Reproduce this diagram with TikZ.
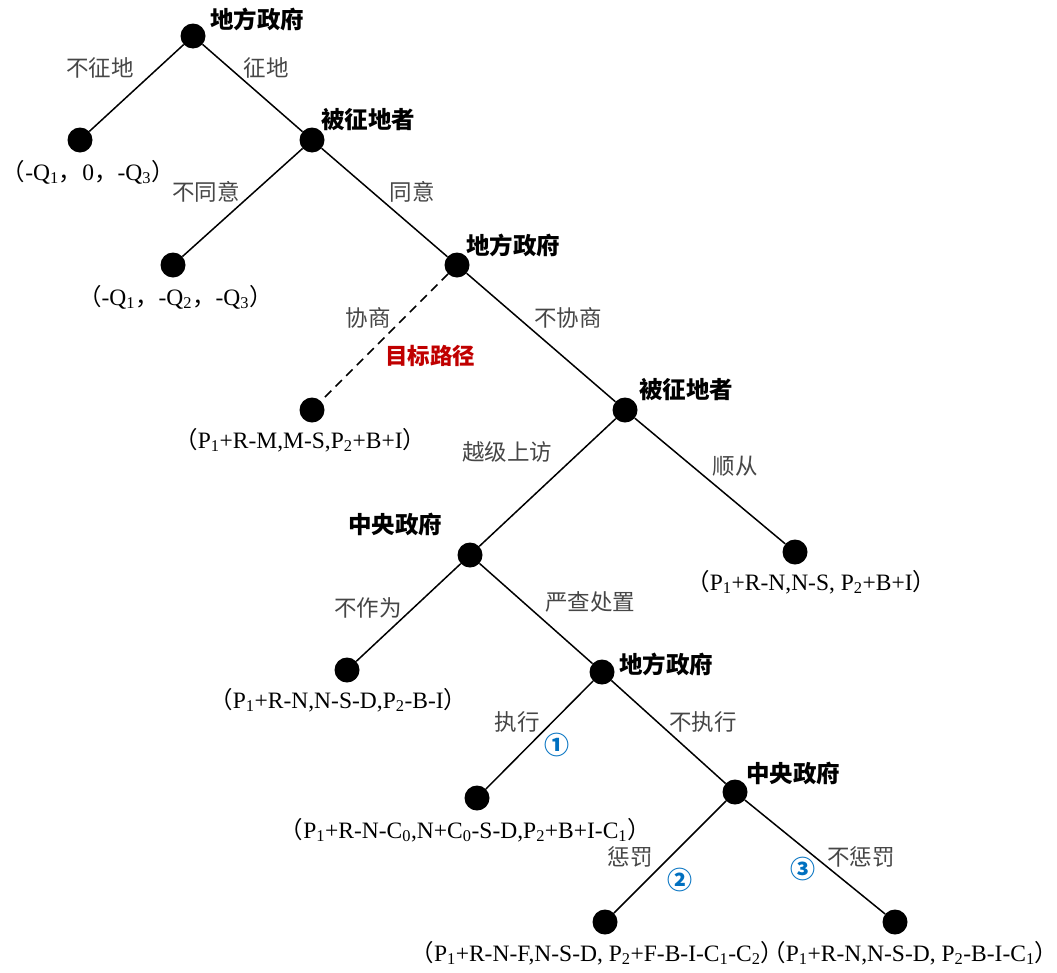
\documentclass[tikz,border=0pt]{standalone}
\usepackage{fontspec}
\setmainfont{Liberation Serif}
\newfontfamily\cjk{Noto Sans CJK SC}
\usetikzlibrary{calc}

\definecolor{edgegray}{RGB}{70,70,70}
\definecolor{pathred}{RGB}{192,0,0}
\definecolor{stepblue}{RGB}{0,112,192}

\newcommand{\lpar}{{\cjk （}}
\newcommand{\rpar}{{\cjk\makebox[0.55em][l]{）}}}
\newcommand{\sub}[1]{\textsubscript{#1}}

\begin{document}
\begin{tikzpicture}[x=1pt, y=-1pt,
	dot/.style={circle, fill=black, inner sep=0pt, minimum size=25pt},
	player/.style={font=\cjk\fontsize{23.5}{26}\selectfont\bfseries},
	choice/.style={font=\cjk\fontsize{22.5}{26}\selectfont, text=edgegray},
	payoff/.style={font=\fontsize{23.5}{26}\selectfont, inner sep=0.5pt},
	stepmark/.style={font=\cjk\fontsize{25}{26}\selectfont\bfseries, text=stepblue},
	branch/.style={line width=1.5pt}]

	\useasboundingbox (0,0) rectangle (1057,972);

	% ---- decision nodes

	\node[dot] (A) at (193,36) {};
	\node[dot] (B) at (312,140) {};
	\node[dot] (C) at (457,265) {};
	\node[dot] (D) at (625,410) {};
	\node[dot] (E) at (470,555) {};
	\node[dot] (F) at (602,672) {};
	\node[dot] (G) at (735,792) {};

	% ---- end nodes

	\node[dot] (L1) at (80,140) {};
	\node[dot] (L2) at (173,265) {};
	\node[dot] (L3) at (312,410) {};
	\node[dot] (L4) at (795,552) {};
	\node[dot] (L5) at (347,670) {};
	\node[dot] (L6) at (477,798) {};
	\node[dot] (L7) at (605,922) {};
	\node[dot] (L8) at (895,922) {};

	% ---- branches

	\draw[branch] (A) -- (L1);
	\draw[branch] (A) -- (B);
	\draw[branch] (B) -- (L2);
	\draw[branch] (B) -- (C);
	\draw[branch, dashed, dash pattern=on 9pt off 6pt] (C) -- (L3);
	\draw[branch] (C) -- (D);
	\draw[branch] (D) -- (E);
	\draw[branch] (D) -- (L4);
	\draw[branch] (E) -- (L5);
	\draw[branch] (E) -- (F);
	\draw[branch] (F) -- (L6);
	\draw[branch] (F) -- (G);
	\draw[branch] (G) -- (L7);
	\draw[branch] (G) -- (L8);

	% ---- players

	\node[player] (pA) at (257,19) {地方政府};
	\node[player] (pB) at (368,120) {被征地者};
	\node[player] (pC) at (513,245) {地方政府};
	\node[player] (pD) at (686,390) {被征地者};
	\node[player] (pE) at (395,525) {中央政府};
	\node[player] (pF) at (666,664) {地方政府};
	\node[player] (pG) at (793,773) {中央政府};

	% ---- choices

	\node[choice] at (100,68) {不征地};
	\node[choice] at (266,68) {征地};
	\node[choice] at (206,192) {不同意};
	\node[choice] at (412,192) {同意};
	\node[choice] at (368,318) {协商};
	\node[choice] at (568,318) {不协商};
	\node[choice] at (507,452) {越级上访};
	\node[choice] at (735,466) {顺从};
	\node[choice] at (368,608) {不作为};
	\node[choice] at (590,602) {严查处置};
	\node[choice] at (517,722) {执行};
	\node[choice] at (703,722) {不执行};
	\node[choice] at (630,857) {惩罚};
	\node[choice] at (861,857) {不惩罚};

	\node[choice, text=pathred, font=\cjk\fontsize{22.5}{26}\selectfont\bfseries] at (430,356) {目标路径};

	\node[stepmark] at (557,745) {①};
	\node[stepmark] at (680,880) {②};
	\node[stepmark] at (803,869) {③};

	% ---- payoffs

	\node[payoff] at (83,172) {\lpar-Q\sub{1}{\cjk ，}0{\cjk ，}-Q\sub{3}\rpar};
	\node[payoff] at (170,297) {\lpar-Q\sub{1}{\cjk ，}-Q\sub{2}{\cjk ，}-Q\sub{3}\rpar};
	\node[payoff] at (295,440) {\lpar P\sub{1}+R-M,M-S,P\sub{2}+B+I\rpar};
	\node[payoff] at (806,582) {\lpar P\sub{1}+R-N,N-S, P\sub{2}+B+I\rpar};
	\node[payoff] at (333,700) {\lpar P\sub{1}+R-N,N-S-D,P\sub{2}-B-I\rpar};
	\node[payoff] at (460,830) {\lpar P\sub{1}+R-N-C\sub{0},N+C\sub{0}-S-D,P\sub{2}+B+I-C\sub{1}\rpar};
	\node[payoff] at (592,953) {\lpar P\sub{1}+R-N-F,N-S-D, P\sub{2}+F-B-I-C\sub{1}-C\sub{2}\rpar};
	\node[payoff] at (905,953) {\lpar P\sub{1}+R-N,N-S-D, P\sub{2}-B-I-C\sub{1}\rpar};

\end{tikzpicture}
\end{document}
